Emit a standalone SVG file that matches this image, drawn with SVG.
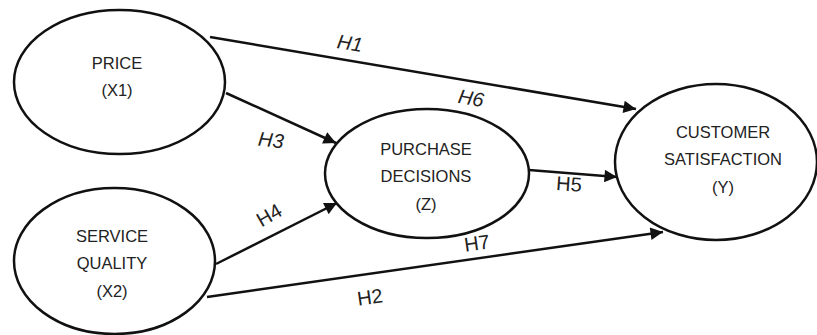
<svg xmlns="http://www.w3.org/2000/svg" width="817" height="335" viewBox="0 0 817 335">
<style>
.node{fill:#fff;stroke:#111;stroke-width:2.5}
.t{font-family:"Liberation Sans",Arial,sans-serif;font-size:16.5px;fill:#222;text-anchor:middle}
.e{stroke:#111;stroke-width:2.5;fill:none}
.l{font-family:"Liberation Sans",Arial,sans-serif;font-size:20px;fill:#222;text-anchor:middle}
.i{font-style:italic}
</style>
<defs>
<marker id="ah" viewBox="0 0 10 10" refX="10" refY="5" markerWidth="5.5" markerHeight="5" markerUnits="strokeWidth" orient="auto">
<path d="M0,0 L10,5 L0,10 z" fill="#111"/>
</marker>
</defs>
<rect width="817" height="335" fill="#fff"/>
<g id="connectors">
<line class="e" x1="210" y1="37" x2="636" y2="109" marker-end="url(#ah)"/>
<line class="e" x1="226" y1="93" x2="336" y2="143" marker-end="url(#ah)"/>
<line class="e" x1="216" y1="264" x2="337" y2="203" marker-end="url(#ah)"/>
<line class="e" x1="207" y1="297" x2="663" y2="232" marker-end="url(#ah)"/>
<line class="e" x1="529" y1="170" x2="617" y2="177" marker-end="url(#ah)"/>
<text class="l i" x="350" y="50" transform="rotate(9 350 43)">H1</text>
<text class="l i" x="471" y="105" transform="rotate(10 471 98)">H6</text>
<text class="l i" x="271" y="147" transform="rotate(6 271 140)">H3</text>
<text class="l" x="269" y="222" transform="rotate(-30 269 215)">H4</text>
<text class="l" x="569" y="191" transform="rotate(4 569 184)">H5</text>
<text class="l" x="477" y="250" transform="rotate(-8 477 243)">H7</text>
<text class="l" x="370" y="304" transform="rotate(-8 370 297)">H2</text>
</g>
<g id="price">
<ellipse class="node" cx="119.5" cy="82" rx="105.5" ry="72"/>
<text class="t" x="117" y="69">PRICE</text>
<text class="t" x="117" y="96">(X1)</text>
</g>
<g id="service">
<ellipse class="node" cx="114.5" cy="261" rx="100.5" ry="73"/>
<text class="t" x="112" y="242">SERVICE</text>
<text class="t" x="112" y="269">QUALITY</text>
<text class="t" x="112" y="297">(X2)</text>
</g>
<g id="purchase">
<ellipse class="node" cx="427" cy="173.5" rx="102" ry="64.5"/>
<text class="t" x="426" y="155">PURCHASE</text>
<text class="t" x="426" y="182">DECISIONS</text>
<text class="t" x="426" y="210">(Z)</text>
</g>
<g id="customer">
<ellipse class="node" cx="716" cy="162" rx="101" ry="78"/>
<text class="t" x="723" y="138">CUSTOMER</text>
<text class="t" x="723" y="165">SATISFACTION</text>
<text class="t" x="723" y="193">(Y)</text>
</g>
</svg>
